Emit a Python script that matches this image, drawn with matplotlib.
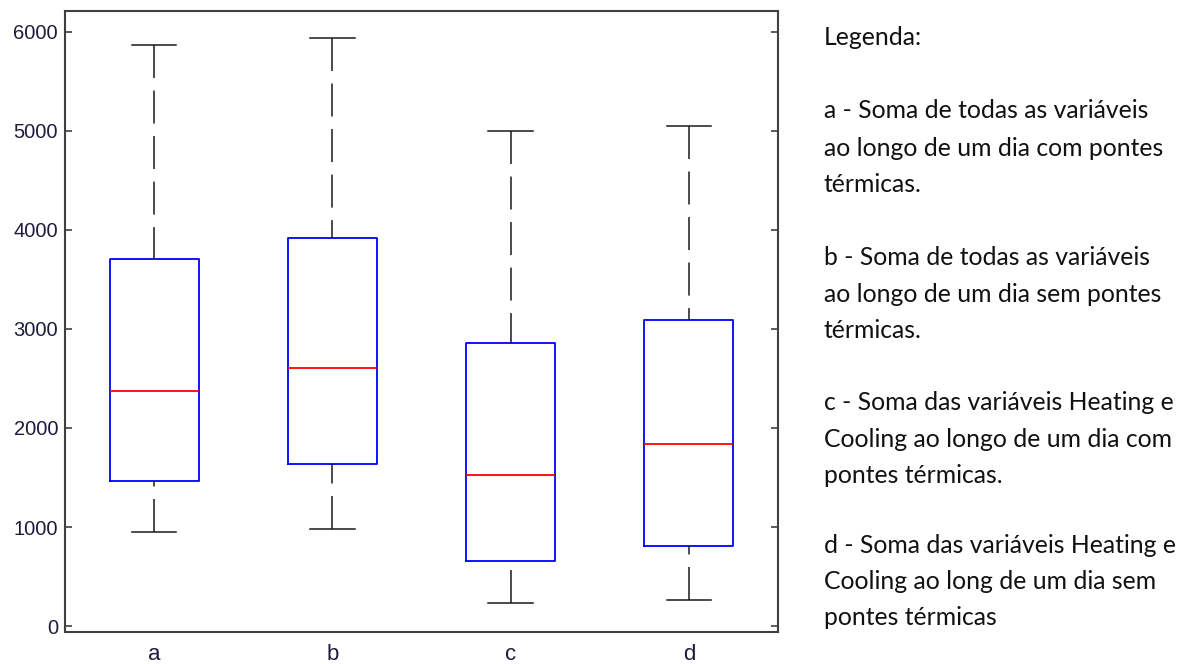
import matplotlib
matplotlib.use("Agg")
import matplotlib.pyplot as plt

# box statistics
labels = ['a', 'b', 'c', 'd']
whisker_low = [949, 980, 232, 263]
q1 = [1465, 1636, 657, 808]
median = [2374, 2606, 1525, 1838]
q3 = [3707, 3919, 2859, 3091]
whisker_high = [5870, 5939, 5000, 5051]

legend_lines = [
    "Legenda:",
    "a - Soma de todas as variáveis",
    "ao longo de um dia com pontes",
    "térmicas.",
    "b - Soma de todas as variáveis",
    "ao longo de um dia sem pontes",
    "térmicas.",
    "c - Soma das variáveis Heating e",
    "Cooling ao longo de um dia com",
    "pontes térmicas.",
    "d - Soma das variáveis Heating e",
    "Cooling ao long de um dia sem",
    "pontes térmicas",
]
# baseline of each legend line, pixels from the top
legend_baselines = [45, 118, 156, 192, 265, 302, 338, 410, 447, 483, 553, 589, 625]

stats = []
for i in range(len(labels)):
    stats.append({
        'label': labels[i],
        'whislo': whisker_low[i],
        'q1': q1[i],
        'med': median[i],
        'q3': q3[i],
        'whishi': whisker_high[i],
        'fliers': [],
    })

W, H = 1189, 664
fig = plt.figure(figsize=(W / 100, H / 100), dpi=100)
ax = fig.add_axes([65 / W, 1 - 632 / H, 713 / W, 621 / H])

parts = ax.bxp(stats, positions=[1, 2, 3, 4], widths=0.5, capwidths=0.25,
               showfliers=False,
               boxprops=dict(color='blue', linewidth=1.3),
               medianprops=dict(color='red', linewidth=1.3),
               whiskerprops=dict(color='#1a1a1a', linewidth=1.1,
                                 linestyle=(0, (21.6, 8.2))),
               capprops=dict(color='#1a1a1a', linewidth=1.1))

# start the dash pattern at the cap end, as in the original
for w in parts['whiskers']:
    xd, yd = w.get_data()
    w.set_data(list(xd)[::-1], list(yd)[::-1])

ax.set_xlim(0.5, 4.5)
ax.set_ylim(-60, 6210)
ax.set_yticks([0, 1000, 2000, 3000, 4000, 5000, 6000])
ax.set_xticks([1, 2, 3, 4])
ax.set_xticklabels(labels)

tick_color = '#1c1c3c'
ax.tick_params(axis='y', direction='in', length=5, width=1.2, color='#404040',
               left=True, right=True, labelsize=14.5, labelcolor=tick_color, pad=5)
ax.tick_params(axis='x', length=0, labelsize=16, labelcolor=tick_color, pad=9)
for lbl in ax.get_xticklabels() + ax.get_yticklabels():
    lbl.set_fontfamily('Liberation Sans')

for spine in ax.spines.values():
    spine.set_color('#404040')
    spine.set_linewidth(1.5)

# legend text on the right
for line, base in zip(legend_lines, legend_baselines):
    fig.text(824 / W, 1 - base / H, line, ha='left', va='baseline',
             fontsize=17.8, family='Lato', color='#111111')

fig.savefig('out.png', dpi=100)
